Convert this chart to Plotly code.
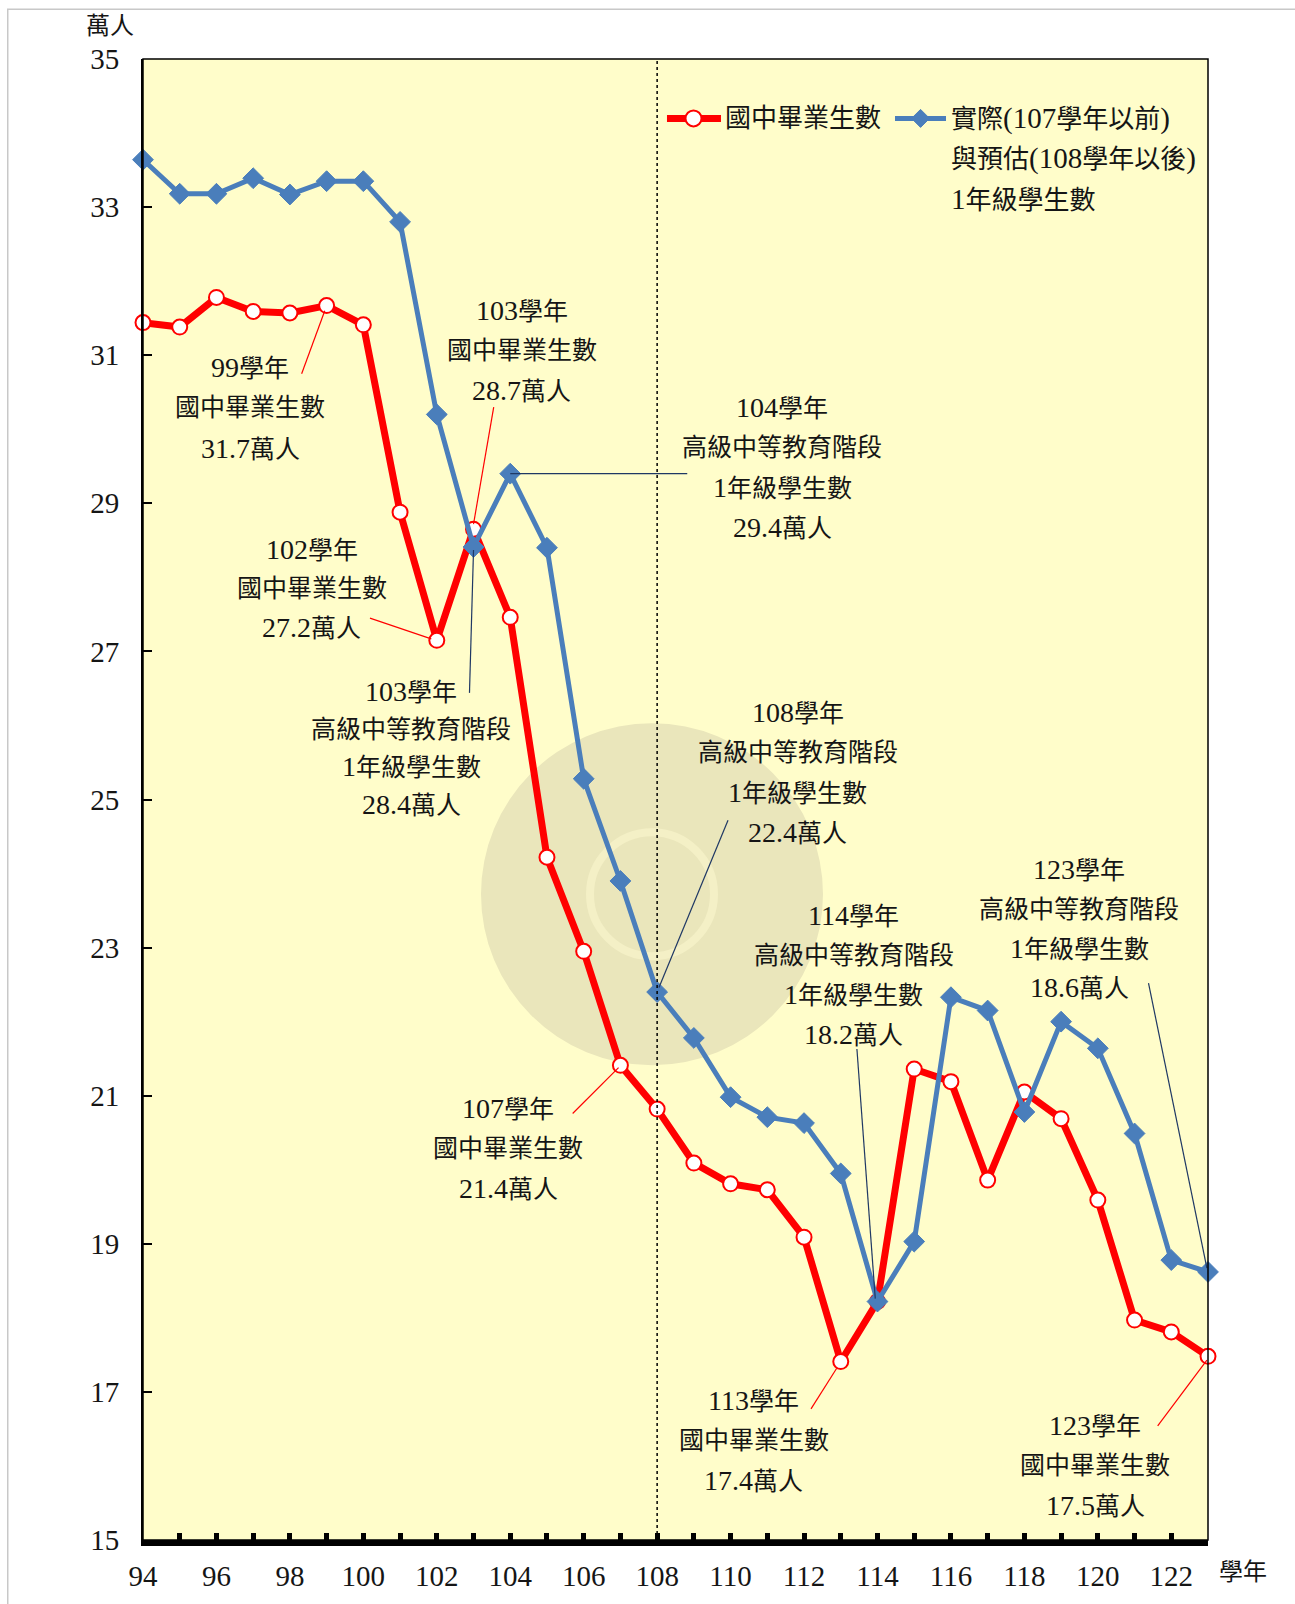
import re
import plotly.graph_objects as go

years = list(range(94, 124))
grads = [31.44, 31.38, 31.78, 31.59, 31.57, 31.67, 31.41, 28.88, 27.15, 28.65,
         27.46, 24.22, 22.95, 21.41, 20.82, 20.09, 19.81, 19.73, 19.09, 17.41,
         18.22, 21.36, 21.19, 19.86, 21.05, 20.69, 19.59, 17.97, 17.81, 17.48]
first_year = [33.64, 33.18, 33.18, 33.39, 33.17, 33.35, 33.35, 32.80, 30.20, 28.41,
              29.40, 28.40, 25.28, 23.90, 22.40, 21.78, 20.98, 20.71, 20.63, 19.95,
              18.22, 19.03, 22.33, 22.15, 20.78, 22.00, 21.64, 20.49, 18.78, 18.62]
y_ticks = list(range(15, 36, 2))
x_tick_labels = [str(y) if y % 2 == 0 else "" for y in years]

name_red = "國中畢業生數"
name_blue_lines = ["實際(107學年以前)", "與預估(108學年以後)", "1年級學生數"]

FONT = "Liberation Serif, Noto Sans CJK TC, serif"
BG = "#FFFDCA"
RED = "#FF0000"
BLUE = "#4A7EBB"
NAVY = "#1F3864"
TXT = "#151515"


def styl(t, big=28):
    """Latin/digit runs slightly larger than CJK runs (as in the original)."""
    return re.sub(r"([0-9.()]+)", r'<span style="font-size:%dpx">\1</span>' % big, t)


fig = go.Figure()
fig.add_trace(go.Scatter(
    x=years, y=grads, name=name_red, mode="lines+markers",
    line=dict(color=RED, width=7),
    marker=dict(symbol="circle", size=15, color="white", line=dict(color=RED, width=2)),
    cliponaxis=False, showlegend=False))
fig.add_trace(go.Scatter(
    x=years, y=first_year, name="<br>".join(name_blue_lines), mode="lines+markers",
    line=dict(color=BLUE, width=5),
    marker=dict(symbol="diamond", size=16, color=BLUE, line=dict(color=BLUE, width=1)),
    cliponaxis=False, showlegend=False))

# annotation blocks: (center x, first line y, line gap, lines)
blocks = [
    (96.92, 30.84, 0.55, ["99學年", "國中畢業生數", "31.7萬人"]),
    (104.31, 31.60, 0.54, ["103學年", "國中畢業生數", "28.7萬人"]),
    (98.60, 28.38, 0.53, ["102學年", "國中畢業生數", "27.2萬人"]),
    (101.30, 26.46, 0.51, ["103學年", "高級中等教育階段", "1年級學生數", "28.4萬人"]),
    (111.41, 30.29, 0.54, ["104學年", "高級中等教育階段", "1年級學生數", "29.4萬人"]),
    (111.83, 26.18, 0.54, ["108學年", "高級中等教育階段", "1年級學生數", "22.4萬人"]),
    (103.94, 20.83, 0.54, ["107學年", "國中畢業生數", "21.4萬人"]),
    (113.36, 23.44, 0.54, ["114學年", "高級中等教育階段", "1年級學生數", "18.2萬人"]),
    (119.49, 24.05, 0.53, ["123學年", "高級中等教育階段", "1年級學生數", "18.6萬人"]),
    (110.63, 16.88, 0.54, ["113學年", "國中畢業生數", "17.4萬人"]),
    (119.93, 16.55, 0.54, ["123學年", "國中畢業生數", "17.5萬人"]),
]
annotations = []
for cx, top, gap, lines in blocks:
    for i, t in enumerate(lines):
        annotations.append(dict(x=cx, y=top - i * gap, xref="x", yref="y", text=styl(t),
                                showarrow=False, xanchor="center", yanchor="middle",
                                font=dict(family=FONT, size=25, color=TXT)))

annotations.append(dict(x=-0.031, y=1.022, xref="paper", yref="paper", text="萬人",
                        showarrow=False, xanchor="center", yanchor="middle",
                        font=dict(family=FONT, size=24, color=TXT)))
annotations.append(dict(x=1.033, y=-0.0215, xref="paper", yref="paper", text="學年",
                        showarrow=False, xanchor="center", yanchor="middle",
                        font=dict(family=FONT, size=24, color=TXT)))

# manual legend (paper coordinates)
leg_y = [0.9599, 0.9331, 0.9056]
annotations.append(dict(x=0.5446, y=leg_y[0], xref="paper", yref="paper", text=name_red,
                        showarrow=False, xanchor="left", yanchor="middle",
                        font=dict(family=FONT, size=26, color=TXT)))
for i, t in enumerate(name_blue_lines):
    annotations.append(dict(x=0.7568, y=leg_y[i], xref="paper", yref="paper", text=styl(t, 29),
                            showarrow=False, xanchor="left", yanchor="middle",
                            font=dict(family=FONT, size=26, color=TXT)))

# leader lines
leaders = [
    (98.32, 30.75, 98.95, 31.60, RED),
    (103.55, 30.30, 103.0, 28.72, RED),
    (100.18, 27.45, 101.85, 27.17, RED),
    (102.89, 26.44, 103.0, 28.37, NAVY),
    (104.0, 29.40, 108.82, 29.40, NAVY),
    (109.93, 24.72, 108.05, 22.46, NAVY),
    (105.70, 20.76, 106.95, 21.38, RED),
    (113.44, 21.63, 113.94, 18.26, NAVY),
    (121.38, 22.52, 122.97, 18.67, NAVY),
    (112.19, 16.77, 112.89, 17.32, RED),
    (121.63, 16.54, 122.97, 17.43, RED),
]
shapes = []
# watermark (below data)
wx, wy = 107.86, 23.72
shapes.append(dict(type="circle", xref="x", yref="y", xsizemode="pixel", ysizemode="pixel",
                   xanchor=wx, yanchor=wy, x0=-171, x1=171, y0=-171, y1=171,
                   fillcolor="#EAE6BB", line=dict(width=0), layer="below"))
shapes.append(dict(type="circle", xref="x", yref="y", xsizemode="pixel", ysizemode="pixel",
                   xanchor=wx, yanchor=wy, x0=-62, x1=62, y0=-62, y1=62,
                   fillcolor="rgba(0,0,0,0)", line=dict(width=8, color="#F4F0C6"), layer="below"))
for x0, y0, x1, y1, c in leaders:
    shapes.append(dict(type="line", xref="x", yref="y", x0=x0, y0=y0, x1=x1, y1=y1,
                       line=dict(color=c, width=1.2)))
# dotted divider at 108
shapes.append(dict(type="line", xref="x", yref="paper", x0=108, x1=108, y0=0, y1=1,
                   line=dict(color="black", width=1.5, dash="dot")))
# plot frame
shapes.append(dict(type="rect", xref="paper", yref="paper", x0=0, x1=1, y0=0, y1=1,
                   line=dict(color="black", width=1.5)))
# outer page border
shapes.append(dict(type="rect", xref="paper", yref="paper", x0=-0.127, x1=1.2, y0=-0.2, y1=1.0336,
                   line=dict(color="#C8C8C8", width=1.5)))
# legend symbols
shapes.append(dict(type="line", xref="paper", yref="paper", x0=0.4920, x1=0.5427,
                   y0=leg_y[0], y1=leg_y[0], line=dict(color=RED, width=7)))
shapes.append(dict(type="circle", xref="paper", yref="paper", xsizemode="pixel", ysizemode="pixel",
                   xanchor=0.5169, yanchor=leg_y[0], x0=-8, x1=8, y0=-8, y1=8,
                   fillcolor="white", line=dict(color=RED, width=2)))
shapes.append(dict(type="line", xref="paper", yref="paper", x0=0.7061, x1=0.7540,
                   y0=leg_y[0], y1=leg_y[0], line=dict(color=BLUE, width=5)))
shapes.append(dict(type="path", xref="paper", yref="paper", xsizemode="pixel", ysizemode="pixel",
                   xanchor=0.7301, yanchor=leg_y[0], path="M -9 0 L 0 9 L 9 0 L 0 -9 Z",
                   fillcolor=BLUE, line=dict(color=BLUE, width=1)))

fig.update_layout(
    width=1295, height=1604,
    margin=dict(l=143, r=87, t=59, b=57),
    paper_bgcolor="white", plot_bgcolor=BG,
    font=dict(family=FONT, size=26, color=TXT),
    showlegend=False,
    annotations=annotations, shapes=shapes,
    xaxis=dict(range=[94, 123], tickvals=years, ticktext=x_tick_labels,
               showgrid=False, zeroline=False, showline=True, linecolor="black", linewidth=6,
               ticks="inside", ticklen=7, tickwidth=5, tickcolor="black",
               tickfont=dict(family=FONT, size=29, color=TXT), ticklabelstandoff=5),
    yaxis=dict(range=[15, 35], tickvals=y_ticks,
               showgrid=False, zeroline=False, showline=True, linecolor="black", linewidth=2,
               ticks="inside", ticklen=9, tickwidth=2, tickcolor="black",
               tickfont=dict(family=FONT, size=29, color=TXT), ticklabelstandoff=16),
)

fig.write_html("out.html", config={"displayModeBar": False},
               post_script="document.body.style.margin='0';")
